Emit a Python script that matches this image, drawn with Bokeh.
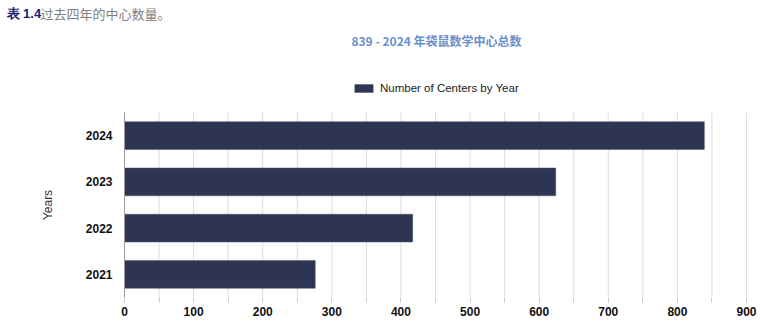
import math
from bokeh.plotting import figure
from bokeh.models import Label, Legend, LegendItem, FixedTicker, Range1d, ColumnDataSource
from bokeh.core.properties import value
from bokeh.embed import file_html
from bokeh.resources import INLINE

years = ["2021", "2022", "2023", "2024"]
centers = [276, 417, 624, 839]
x_ticks = [0, 100, 200, 300, 400, 500, 600, 700, 800, 900]
grid_ticks = list(range(0, 950, 50))
caption_bold = "表 1.4"
caption_rest = "过去四年的中心数量。"
chart_title = "839 - 2024 年袋鼠数学中心总数"
series_name = "Number of Centers by Year"
y_label = "Years"

W, H = 768, 326
FB = 297                 # canvas y of frame bottom (x axis below)
X0_PX = 124              # canvas x of value 0
PX_PER_UNIT = 622 / 900  # horizontal scale
BAND_PX = 46.25          # height of one category band

n = len(years)
ypos = [i + 0.5 for i in range(n)]

p = figure(width=W, height=H,
           x_range=Range1d(-X0_PX / PX_PER_UNIT, (W - X0_PX) / PX_PER_UNIT),
           y_range=Range1d(0, FB / BAND_PX),
           output_backend="svg", toolbar_location=None,
           min_border_left=0, min_border_right=0,
           min_border_top=0, min_border_bottom=H - FB)
p.outline_line_color = None
p.background_fill_color = "white"
p.yaxis.visible = False
p.xgrid.visible = False
p.ygrid.visible = False

FONT = "Liberation Sans"
CJK = "Noto Sans CJK SC"

# vertical grid lines over the category area
p.segment(x0=grid_ticks, y0=[0] * len(grid_ticks), x1=grid_ticks, y1=[n] * len(grid_ticks),
          line_color="#dddddd", line_width=1)

src = ColumnDataSource(dict(y=ypos, right=centers, year=years))
r = p.hbar(y="y", right="right", left=0, height=0.6, fill_color="#2e3552",
           line_color="#4a5068", line_width=0.5, source=src)

# y axis line
p.segment(x0=[0], y0=[0], x1=[0], y1=[n], line_color="#999999", line_width=1)

# y tick labels
p.text(x=0, y="y", text="year", source=src, x_offset=-12,
       text_align="right", text_baseline="middle",
       text_font=value(FONT), text_font_style="bold", text_font_size="12px",
       text_color="#111111")
# y axis title
p.text(x=[0], y=[n / 2], text=[y_label], x_offset=-77, angle=math.pi / 2,
       text_align="center", text_baseline="middle",
       text_font=value(FONT), text_font_size="12px", text_color="#333333")

# x axis
p.xaxis.ticker = FixedTicker(ticks=x_ticks, minor_ticks=grid_ticks)
p.xaxis.axis_line_color = None
p.xaxis.major_tick_line_color = "#cccccc"
p.xaxis.minor_tick_line_color = "#cccccc"
p.xaxis.major_tick_out = 5
p.xaxis.major_tick_in = 0
p.xaxis.minor_tick_out = 5
p.xaxis.minor_tick_in = 0
p.xaxis.major_label_text_font = FONT
p.xaxis.major_label_text_font_style = "bold"
p.xaxis.major_label_text_font_size = "12px"
p.xaxis.major_label_text_color = "#111111"
p.xaxis.major_label_standoff = 4

legend = Legend(items=[LegendItem(label=series_name, renderers=[r])],
                location=(352, 203), orientation="horizontal",
                glyph_width=23, glyph_height=10, label_standoff=5,
                padding=0, margin=0, border_line_color=None,
                background_fill_alpha=0,
                label_text_font=FONT, label_text_font_size="11.5px",
                label_text_color="#222222")
p.add_layout(legend, "center")

# texts (screen units relative to frame bottom-left, y upward)
def lbl(x, y_center, **kw):
    return Label(x=x, y=FB - y_center, x_units="screen", y_units="screen",
                 text_baseline="middle", **kw)

p.add_layout(lbl(6, 13, text=caption_bold, text_font=FONT, text_font_style="bold",
                 text_font_size="13px", text_color="#1c1c72"))
p.add_layout(lbl(40, 13, text=caption_rest, text_font=CJK,
                 text_font_size="13px", text_color="#808080"))
p.add_layout(lbl(436, 40, text=chart_title, text_font=CJK, text_font_style="bold",
                 text_font_size="12px", text_color="#6b8fcb", text_align="center"))

open("out.html", "w").write(file_html(p, INLINE))
